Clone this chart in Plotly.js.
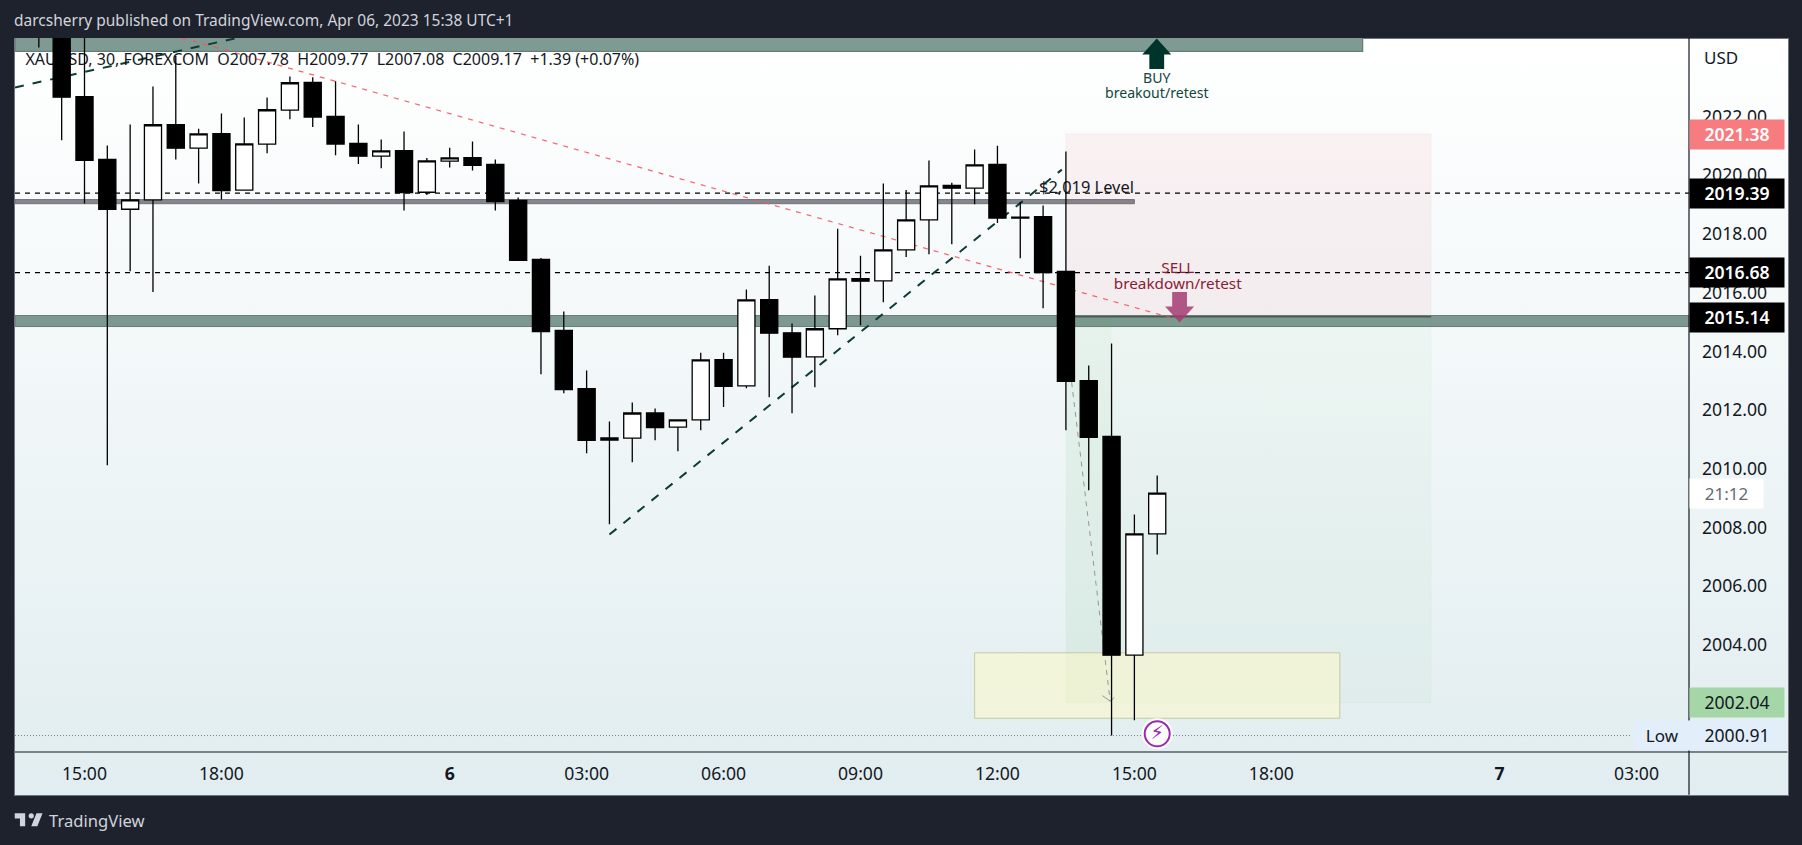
<!DOCTYPE html>
<html>
<head>
<meta charset="utf-8">
<script src="https://cdn.plot.ly/plotly-3.0.1.min.js"></script>
<style>
html,body{margin:0;padding:0;width:1802px;height:845px;overflow:hidden;background:#1e222d;}
#frame{position:absolute;left:14px;top:38px;width:1773px;height:756px;border:1px solid #70747f;background:linear-gradient(#ffffff,#e1edf0);}
#logo{position:absolute;left:12.8px;top:807.8px;width:31.3px;height:24.4px;}
#chart{position:absolute;left:0;top:0;width:1802px;height:845px;}
</style>
</head>
<body>
<div id="frame"></div>
<svg id="logo" viewBox="0 0 36 28"><path fill="#d1d4dc" d="M14 6H2v6h6v9h6V6Zm14 15h-7l6-15h7l-6 15Zm-7-9a3 3 0 1 0 0-6 3 3 0 0 0 0 6Z"/></svg>
<div id="chart"></div>
<script>
// ---- chart data ----
var candleIndex = [-1,0,1,2,3,4,5,6,7,8,9,10,11,12,13,14,15,16,17,18,19,20,21,22,23,24,25,26,27,28,29,30,31,32,33,34,35,36,37,38,39,40,41,42,43,44,45,46,47,48];
var opens  = [2026,2025.5,2022.68,2020.535,2018.84,2019.16,2021.72,2020.92,2021.42,2019.49,2021.06,2022.22,2023.16,2022.0,2021.08,2020.65,2020.84,2019.42,2020.48,2020.6,2020.365,2019.14,2017.13,2014.71,2012.73,2010.98,2011.04,2011.9,2011.415,2011.665,2013.72,2012.82,2015.76,2014.63,2013.81,2014.77,2016.48,2016.4,2017.46,2018.48,2019.65,2019.56,2020.365,2018.57,2018.59,2016.72,2013.0,2011.1,2003.65,2007.78];
var highs  = [2026.5,2026,2025,2021.01,2021.73,2023.02,2024.06,2021.58,2022.1,2021.97,2022.65,2023.36,2023.34,2023.2,2021.73,2021.22,2021.49,2020.59,2020.94,2021.15,2020.535,2019.24,2017.18,2015.36,2013.35,2011.61,2012.26,2012.05,2011.67,2013.95,2013.95,2016.11,2016.92,2014.95,2015.9,2018.18,2017.26,2019.72,2019.5,2020.5,2019.74,2020.88,2021.0,2019.09,2018.97,2020.81,2013.52,2014.27,2008.44,2009.77];
var lows   = [2024.35,2021.19,2019.04,2010.12,2016.73,2016.02,2020.535,2019.72,2019.17,2019.47,2020.75,2021.91,2021.64,2020.68,2020.38,2020.24,2018.8,2019.33,2020.26,2020.16,2018.8,2017.09,2013.22,2012.57,2010.53,2008.11,2010.22,2010.97,2010.6,2011.31,2012.1,2012.74,2012.44,2011.89,2012.78,2014.55,2014.89,2015.67,2017.21,2017.31,2017.65,2019.01,2018.37,2017.17,2015.47,2011.31,2009.27,2000.91,2001.43,2007.08];
var closes = [2025.7,2022.66,2020.51,2018.84,2019.16,2021.72,2020.92,2021.41,2019.48,2021.07,2022.23,2023.15,2021.98,2021.06,2020.65,2020.83,2019.41,2020.49,2020.59,2020.34,2019.1,2017.1,2014.67,2012.7,2010.97,2011.05,2011.9,2011.4,2011.665,2013.71,2012.81,2015.75,2014.62,2013.8,2014.77,2016.47,2016.39,2017.46,2018.48,2019.64,2019.56,2020.35,2018.54,2018.54,2016.68,2012.98,2011.07,2003.65,2007.78,2009.17];

var tickIndex  = [1,7,17,23,29,35,41,47,53,63,69];
var tickLabels = ['15:00','18:00','<b>6</b>','03:00','06:00','09:00','12:00','15:00','18:00','<b>7</b>','03:00'];
var priceTicks = [2004,2006,2008,2010,2012,2014,2016,2018,2020,2022];

var xRange = [-2.045,71.3];
var yRange = [2000.35,2024.675];

var levelUpper = 2019.39, levelLower = 2016.68, levelLow = 2000.91;
var topBand = [2024.22,2026], topBandEnd = 57;
var grayBand = [2019.03,2019.17], grayBandEnd = 47;
var greenBand = [2014.845,2015.22];
var targetZone = {x:[44,60], stop:2021.41, entry:2015.18, target:2002.02};
var greenerPart = [44,46];
var yellowBox = {x:[40,56], y:[2001.5,2003.73]};

var buyLineX1 = [24,43.82], buyLineY1 = [2007.76,2020.19];
var buyLineX2 = [-2.045,7.7], buyLineY2 = [2022.99,2024.68];
var sellLineX = [5.28,48.57], sellLineY = [2024.68,2015.15];
var moveLineX = [44.25,45.94], moveLineY = [2012.95,2002.08];
var moveHeadX = [45.6,45.95,46.12], moveHeadY = [2002.27,2002.08,2002.21];
var priceTags = [
  {p:2021.38,t:'2021.38',bg:'#f77c80',c:'#ffffff',w:600},
  {p:2019.39,t:'2019.39',bg:'#000000',c:'#ffffff',w:600},
  {p:2016.68,t:'2016.68',bg:'#000000',c:'#ffffff',w:600},
  {p:2015.14,t:'2015.14',bg:'#000000',c:'#ffffff',w:600},
  {p:2002.04,t:'2002.04',bg:'#a5d6a7',c:'#131722',w:400},
  {p:2000.91,t:'2000.91',bg:'#e3eefb',c:'#131722',w:400}
];
var FONT='"Noto Sans", sans-serif';

// ---- layout helpers: page pixels to paper fractions ----
var L=14.5,R=1689.5,T=38,B=752.3,W=R-L,H=B-T;
function px(x){return (x-L)/W;}
function py(y){return 1-(y-T)/H;}

function line(xs,ys,color,width,dash){
  return {type:'scatter',mode:'lines',x:xs,y:ys,hoverinfo:'skip',showlegend:false,
          line:{color:color,width:width,dash:dash||'solid'}};
}
function label(x,y,text,size,color,pos){
  return {type:'scatter',mode:'text',x:[x],y:[y],text:[text],textposition:pos||'middle center',
          textfont:{family:FONT,size:size,color:color},hoverinfo:'skip',showlegend:false,cliponaxis:false};
}
function rect(x0,x1,y0,y1,fill,border,bw){
  return {type:'rect',xref:'x',yref:'y',x0:x0,x1:x1,y0:y0,y1:y1,fillcolor:fill,layer:'below',
          line:{color:border||'rgba(0,0,0,0)',width:bw===undefined?1:bw}};
}
var nbsp='\u00A0';
var legendText='XAUUSD, 30, FOREXCOM'+nbsp+nbsp+'O2007.78'+nbsp+nbsp+'H2009.77'+nbsp+nbsp+'L2007.08'+nbsp+nbsp+'C2009.17'+nbsp+nbsp+'+1.39 (+0.07%)';

var traces=[
  line(xRange,[levelUpper,levelUpper],'#000000',1.2,'5px,5px'),
  line(xRange,[levelLower,levelLower],'#000000',1.2,'5px,5px'),
  line([xRange[0],68.8],[levelLow,levelLow],'#7a7f8a',1,'1px,2px'),
  line(buyLineX1,buyLineY1,'#0b3d34',2,'9px,9px'),
  line(buyLineX2,buyLineY2,'#0b3d34',2,'9px,9px'),
  line(sellLineX,sellLineY,'rgba(247,82,95,0.9)',1.2,'5px,6px'),
  line(moveLineX,moveLineY,'rgba(120,123,134,0.75)',1,'5px,5px'),
  line(moveHeadX,moveHeadY,'rgba(120,123,134,0.75)',1),
  label(-1.586,2023.9,legendText,16,'#131722','middle right'),
  label(44.9,2019.54,'$2,019 Level',16.4,'#131722'),
  label(48.9,2016.8,'SELL',15.3,'#8a1c36'),
  label(48.9,2016.27,'breakdown/retest',15.3,'#8a1c36'),
  label(47.98,2023.25,'BUY',14.1,'#12463d'),
  label(47.98,2022.76,'breakout/retest',14.1,'#12463d'),
  {type:'scatter',mode:'markers',x:[48],y:[2000.97],hoverinfo:'skip',showlegend:false,cliponaxis:false,
   marker:{symbol:'circle',size:31,color:'#ffffff',line:{width:0}}},
  {type:'scatter',mode:'markers+text',x:[48],y:[2000.97],text:['⚡'],textposition:'middle center',
   textfont:{family:'DejaVu Sans',size:19,color:'#9c27b0'},hoverinfo:'skip',showlegend:false,cliponaxis:false,
   marker:{symbol:'circle',size:25,color:'#ffffff',line:{color:'#9c27b0',width:2}}},
  {type:'candlestick',x:candleIndex,open:opens,high:highs,low:lows,close:closes,xaxis:'x2',yaxis:'y2',
   whiskerwidth:0,hoverinfo:'skip',showlegend:false,
   increasing:{line:{color:'#000000',width:1.3},fillcolor:'#ffffff'},
   decreasing:{line:{color:'#000000',width:1.3},fillcolor:'#000000'}}
];

// arrow outlines are glyphs in pixels, anchored to a data point (tip of the arrow)
function arrowShape(ax,ay,dir,color){
  var s=dir; // +1 points up (body below the tip), -1 points down (body above the tip)
  var path='M0,0 L14.5,'+(-s*16)+' L7.4,'+(-s*16)+' L7.4,'+(-s*30.5)+' L-7.4,'+(-s*30.5)+' L-7.4,'+(-s*16)+' L-14.5,'+(-s*16)+' Z';
  return {type:'path',xref:'x',yref:'y',xsizemode:'pixel',ysizemode:'pixel',xanchor:ax,yanchor:ay,path:path,
          fillcolor:color,line:{width:0},layer:'above'};
}

var shapes=[
  rect(xRange[0],topBandEnd,topBand[0],topBand[1],'#7f9a93','#667f79',1.3),
  rect(xRange[0],grayBandEnd,grayBand[0],grayBand[1],'#85878f','#70737c',1),
  rect(xRange[0],xRange[1],greenBand[0],greenBand[1],'#7d9891','#667f79',1),
  rect(targetZone.x[0],targetZone.x[1],targetZone.entry,targetZone.stop,'rgba(220,54,69,0.06)','rgba(242,54,69,0.05)',1),
  rect(targetZone.x[0],targetZone.x[1],targetZone.target,targetZone.entry,'rgba(76,175,80,0.04)','rgba(76,175,80,0.03)',1),
  rect(greenerPart[0],greenerPart[1],targetZone.target,targetZone.entry,'rgba(76,175,80,0.04)'),
  rect(yellowBox.x[0],yellowBox.x[1],yellowBox.y[0],yellowBox.y[1],'rgba(255,249,195,0.5)','#c6c9a2',1),
  {type:'line',xref:'x',yref:'y',x0:targetZone.x[0],x1:targetZone.x[1],y0:targetZone.entry,y1:targetZone.entry,layer:'below',line:{color:'#4a5c57',width:1.6}},
  // axis separators
  {type:'line',xref:'paper',yref:'paper',x0:1,x1:1,y0:py(38),y1:py(795),line:{color:'#131722',width:1.2}},
  {type:'line',xref:'paper',yref:'paper',x0:px(14.5),x1:px(1788),y0:0,y1:0,line:{color:'#131722',width:1.2}},
  arrowShape(47.98,2024.66,1,'#00332a'),
  arrowShape(48.98,2014.98,-1,'rgba(165,60,115,0.85)')
];

var annotations=[];
priceTags.forEach(function(t){
  annotations.push({xref:'paper',yref:'y',x:1,y:t.p,xanchor:'left',yanchor:'middle',text:t.t,showarrow:false,
    width:94,height:28.6,bgcolor:t.bg,borderpad:0,align:'center',
    font:{family:FONT,size:17.6,color:t.c,weight:t.w}});
});
annotations.push({xref:'paper',yref:'paper',x:1,y:py(493.3),xanchor:'left',yanchor:'middle',text:'21:12',showarrow:false,
  width:73,height:28.6,bgcolor:'#ffffff',borderpad:0,align:'center',font:{family:FONT,size:17,color:'#666a73'}});
annotations.push({xref:'paper',yref:'y',x:px(1634),y:levelLow,xanchor:'left',yanchor:'middle',text:'Low',showarrow:false,
  width:54.5,height:28.6,bgcolor:'#e3eefb',borderpad:0,align:'center',font:{family:FONT,size:17,color:'#131722'}});
annotations.push({xref:'paper',yref:'paper',x:px(1702.5),y:py(58),xanchor:'left',yanchor:'middle',text:'USD',showarrow:false,
  font:{family:FONT,size:17,color:'#131722'}});
annotations.push({xref:'paper',yref:'paper',x:px(47.5),y:py(821),xanchor:'left',yanchor:'middle',text:'TradingView',showarrow:false,
  borderpad:0,font:{family:FONT,size:16.6,color:'#d1d4dc'}});

var layout={
  width:1802,height:845,
  margin:{l:L,r:1802-R,t:T,b:845-B,pad:0},
  paper_bgcolor:'rgba(0,0,0,0)',plot_bgcolor:'rgba(0,0,0,0)',
  showlegend:false,boxgap:0.25,boxgroupgap:0,
  title:{text:'darcsherry published on TradingView.com, Apr 06, 2023 15:38 UTC+1',
         x:14/1802,xanchor:'left',xref:'container',y:1-21/845,yanchor:'middle',yref:'container',
         font:{family:FONT,size:15.5,color:'#d1d4dc'}},
  xaxis:{type:'linear',range:xRange,tickmode:'array',tickvals:tickIndex,ticktext:tickLabels,showgrid:false,zeroline:false,
         showline:false,ticks:'',ticklabelstandoff:9,tickangle:0,fixedrange:true,
         tickfont:{family:FONT,size:17.6,color:'#131722'}},
  yaxis:{type:'linear',range:yRange,side:'right',tickmode:'array',tickvals:priceTicks,tickformat:'.2f',showgrid:false,zeroline:false,
         showline:false,ticks:'',ticklabelstandoff:12,ticklabelshift:1.5,fixedrange:true,
         tickfont:{family:FONT,size:17.6,color:'#131722'}},
  xaxis2:{type:'linear',range:xRange,overlaying:'x',visible:false,fixedrange:true,rangeslider:{visible:false}},
  yaxis2:{type:'linear',range:yRange,overlaying:'y',side:'right',visible:false,fixedrange:true},
  shapes:shapes,annotations:annotations
};
Plotly.newPlot('chart',traces,layout,{displayModeBar:false,staticPlot:true});
</script>
</body>
</html>
